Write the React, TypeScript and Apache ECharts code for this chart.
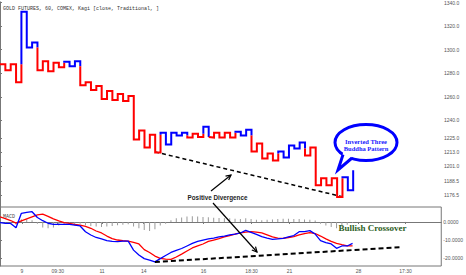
import { useEffect, useRef } from "react";
import * as echarts from "echarts";

const chartTitle = "GOLD FUTURES, 60, COMEX, Kagi [close, Traditional, ]";

// Kagi turning levels (price), one horizontal shoulder/waist per column
const kagiLevels = [
  1287.6, 1282.5, 1287.6, 1272.4, 1332.1, 1301.8, 1306.0, 1282.5, 1290.1, 1281.7,
  1288.8, 1285.0, 1289.7, 1285.9, 1290.1, 1269.9, 1272.4, 1265.7, 1269.1, 1258.1,
  1264.9, 1257.3, 1262.3, 1256.5, 1260.7, 1223.7, 1231.3, 1217.0, 1227.9, 1212.8,
  1229.6, 1219.5, 1229.6, 1227.1, 1229.6, 1225.4, 1228.7, 1225.8, 1234.6, 1225.4,
  1229.6, 1225.4, 1229.6, 1225.4, 1230.4, 1227.1, 1232.1, 1213.6, 1220.3, 1207.7,
  1211.9, 1206.0, 1213.6, 1208.6, 1218.7, 1216.1, 1221.2, 1210.2, 1217.0, 1185.0,
  1190.9, 1185.0, 1190.9, 1174.9, 1191.8, 1180.8, 1197.6,
];

const macdLine = [
  -0.4, -0.7, -0.8, -3.2, 4.8, 5.3, 5.7, 2.5, 0.7, -0.7,
  -1.3, -1.3, -1.3, -1.3, -1.7, -2.2, -5.4, -7.2, -8.6, -9.4,
  -10.3, -10.8, -10.9, -10.6, -10.6, -15.6, -18.3, -20.3, -21.1, -22.1,
  -20.3, -18.6, -16.9, -15.8, -14.7, -13.3, -11.9, -10.8, -10.0, -9.4,
  -8.9, -8.3, -7.8, -7.2, -6.7, -6.1, -4.7, -5.8, -6.9, -8.1,
  -8.9, -9.6, -9.4, -9.1, -8.3, -7.5, -5.4, -5.3, -4.8, -6.7,
  -10.3, -11.4, -12.2, -14.6, -13.3, -13.3, -11.9,
];

const signalLine = [
  2.9, 1.9, 0.8, -0.6, 0.6, 1.7, 2.8, 3.9, 4.3, 3.1,
  1.7, 0.6, -0.4, -0.8, -1.4, -1.7, -2.5, -3.5, -5.0, -6.1,
  -7.8, -9.2, -10.0, -10.4, -10.6, -11.3, -12.2, -15.3, -16.9, -18.9,
  -20.2, -20.6, -20.7, -19.4, -17.8, -16.1, -14.4, -13.3, -12.2, -10.8,
  -10.0, -9.2, -8.3, -7.5, -6.7, -6.1, -5.6, -5.4, -5.6, -6.1,
  -7.2, -8.3, -8.9, -9.1, -8.6, -8.1, -7.2, -6.4, -5.9, -6.4,
  -7.8, -9.4, -10.8, -11.8, -12.5, -13.2, -13.3,
];

const histogram = [
  -0.8, -1.0, -1.2, -1.5, 1.5, 1.5, 1.0, -1.0, -3.0, -3.5,
  -3.0, -2.0, -1.5, -1.3, -1.2, -1.0, -1.8, -2.2, -2.5, -2.8,
  -2.5, -2.2, -1.8, -1.5, -1.2, -2.5, -3.5, -4.5, -5.0, -4.0,
  -2.0, -1.0, 1.0, 2.0, 2.5, 3.0, 3.2, 3.0, 2.8, 2.6,
  2.4, 2.2, 2.0, 2.0, 1.8, 1.6, 2.0, 1.6, 1.2, 1.0,
  1.2, 1.4, 1.6, 1.8, 1.8, 1.6, 1.6, 1.4, 1.2, 0.8,
  -1.0, -2.0, -2.8, -3.5, -2.5, -1.5, -0.5,
];

const priceTicks = [1340, 1320, 1300, 1280, 1260, 1240, 1225, 1213, 1201, 1188.5, 1176.5];
const macdTicks = [0, -10, -20];
const timeTickPos = [4.1, 10.8, 19.1, 26.9, 38.1, 47.1, 54.2, 67.1, 75.9];
const timeTickLabels = ["9", "09:30", "11", "14", "16", "18:30", "21", "28", "17:30"];

const priceTrend = [[29, 1213.2], [64, 1175.2]];
const macdTrend = [[29, -22.2], [75.3, -13.9]];

const X_MAX = 82.6;
const UP = "#0000ff";
const DOWN = "#ff0000";

function buildKagiRuns(levels: number[]) {
  const runs: { up: boolean; pts: number[][] }[] = [];
  let up = false;
  let lastHigh = levels[0];
  let lastLow = levels[0];
  let cur = { up, pts: [[0, levels[0]]] as number[][] };
  for (let i = 0; i < levels.length - 1; i++) {
    const a = levels[i];
    const b = levels[i + 1];
    const x = i + 1;
    cur.pts.push([x, a]);
    if (b > a) {
      if (!up && b > lastHigh) {
        cur.pts.push([x, lastHigh]);
        runs.push(cur);
        up = true;
        cur = { up, pts: [[x, lastHigh]] };
      }
      cur.pts.push([x, b]);
      lastHigh = b;
    } else {
      if (up && b < lastLow) {
        cur.pts.push([x, lastLow]);
        runs.push(cur);
        up = false;
        cur = { up, pts: [[x, lastLow]] };
      }
      cur.pts.push([x, b]);
      lastLow = b;
    }
  }
  runs.push(cur);
  return runs;
}

function arrowHead(tip: number[], from: number[], len = 5, half = 2.5) {
  const dx = tip[0] - from[0];
  const dy = tip[1] - from[1];
  const L = Math.hypot(dx, dy);
  const ux = dx / L;
  const uy = dy / L;
  const bx = tip[0] - ux * len;
  const by = tip[1] - uy * len;
  return [
    [bx - uy * half, by + ux * half],
    tip,
    [bx + uy * half, by - ux * half],
  ];
}

export default function App() {
  const ref = useRef<HTMLDivElement>(null);

  useEffect(() => {
    if (!ref.current) return;
    const chart = echarts.init(ref.current, undefined, { renderer: "svg" });

    const runs = buildKagiRuns(kagiLevels);
    const kagiSeries = runs.map((r) => ({
      type: "line",
      xAxisIndex: 0,
      yAxisIndex: 0,
      data: r.pts,
      showSymbol: false,
      symbol: "none",
      z: 5,
      lineStyle: { color: r.up ? UP : DOWN, width: 2, join: "miter" },
    }));

    const idx = macdLine.map((_, i) => i);
    const axisFont = { fontSize: 5, color: "#555", fontFamily: "Liberation Sans" };

    const a1from = [211, 191];
    const a1to = [231, 175];
    const a2from = [213, 203];
    const a2to = [257, 252];

    const option = {
      animation: false,
      grid: [
        { left: 0, top: 0, width: 442, height: 207, show: false },
        {
          left: 0,
          top: 207,
          width: 442,
          height: 59,
          show: true,
          borderColor: "#777",
          borderWidth: 1,
          backgroundColor: "transparent",
        },
      ],
      xAxis: [
        { type: "value", gridIndex: 0, min: 0, max: X_MAX, show: false },
        {
          type: "value",
          gridIndex: 1,
          min: 0,
          max: X_MAX,
          axisLine: { show: true, lineStyle: { color: "#777" } },
          axisTick: { show: true, customValues: timeTickPos, length: 2, lineStyle: { color: "#777" } },
          axisLabel: {
            customValues: timeTickPos,
            margin: 2,
            ...axisFont,
            formatter: (v: number) => {
              const k = timeTickPos.findIndex((p) => Math.abs(p - v) < 1e-6);
              return k >= 0 ? timeTickLabels[k] : "";
            },
          },
          splitLine: { show: false },
        },
      ],
      yAxis: [
        {
          type: "value",
          gridIndex: 0,
          position: "right",
          min: 1166.5,
          max: 1340.5,
          axisLine: { show: true, lineStyle: { color: "#777" } },
          axisTick: { show: true, customValues: priceTicks, length: 2, lineStyle: { color: "#777" } },
          axisLabel: {
            customValues: priceTicks,
            margin: 2,
            ...axisFont,
            formatter: (v: number) => v.toFixed(1),
          },
          splitLine: { show: false },
        },
        {
          type: "value",
          gridIndex: 1,
          position: "right",
          min: -24.4,
          max: 8.3,
          axisLine: { show: true, lineStyle: { color: "#777" } },
          axisTick: { show: true, customValues: macdTicks, length: 2, lineStyle: { color: "#777" } },
          axisLabel: {
            customValues: macdTicks,
            margin: 2,
            ...axisFont,
            formatter: (v: number) => v.toFixed(4),
          },
          splitLine: { show: false },
        },
      ],
      series: [
        {
          type: "line",
          xAxisIndex: 0,
          yAxisIndex: 0,
          data: priceTrend,
          symbol: "none",
          z: 3,
          lineStyle: { color: "#000", width: 1.5, type: [4, 3] },
        },
        ...kagiSeries,
        {
          type: "bar",
          xAxisIndex: 1,
          yAxisIndex: 1,
          data: idx.map((i) => [i, histogram[i]]),
          barWidth: 1,
          itemStyle: { color: "#9a9a9a" },
          z: 2,
        },
        {
          type: "line",
          xAxisIndex: 1,
          yAxisIndex: 1,
          data: idx.map((i) => [i, signalLine[i]]),
          symbol: "none",
          z: 4,
          lineStyle: { color: DOWN, width: 1.3 },
        },
        {
          type: "line",
          xAxisIndex: 1,
          yAxisIndex: 1,
          data: idx.map((i) => [i, macdLine[i]]),
          symbol: "none",
          z: 5,
          lineStyle: { color: UP, width: 1.3 },
        },
        {
          type: "line",
          xAxisIndex: 1,
          yAxisIndex: 1,
          data: macdTrend,
          symbol: "none",
          z: 6,
          lineStyle: { color: "#000", width: 2, type: [5, 3] },
        },
      ],
      graphic: [
        {
          type: "text",
          x: 3,
          y: 9,
          z: 100,
          style: {
            text: chartTitle,
            fill: "#333",
            font: '5px "Liberation Mono"',
            verticalAlign: "middle",
          },
        },
        {
          type: "text",
          x: 3,
          y: 216.5,
          z: 100,
          style: {
            text: "MACD",
            fill: "#444",
            font: '5px "Liberation Mono"',
            verticalAlign: "middle",
          },
        },
        {
          type: "text",
          x: 217.5,
          y: 197,
          z: 100,
          style: {
            text: "Positive Divergence",
            fill: "#222",
            font: 'bold 6.3px "Liberation Sans"',
            align: "center",
            verticalAlign: "middle",
          },
        },
        {
          type: "polyline",
          z: 100,
          shape: { points: [a1from, a1to] },
          style: { stroke: "#000", lineWidth: 1.2, fill: "none" },
        },
        {
          type: "polyline",
          z: 100,
          shape: { points: arrowHead(a1to, a1from) },
          style: { stroke: "#000", lineWidth: 1.2, fill: "none" },
        },
        {
          type: "polyline",
          z: 100,
          shape: { points: [a2from, a2to] },
          style: { stroke: "#000", lineWidth: 1.2, fill: "none" },
        },
        {
          type: "polyline",
          z: 100,
          shape: { points: arrowHead(a2to, a2from) },
          style: { stroke: "#000", lineWidth: 1.2, fill: "none" },
        },
        {
          type: "ellipse",
          z: 101,
          shape: { cx: 366, cy: 142.5, rx: 31, ry: 18 },
          style: { fill: "#fff", stroke: "#0000ff", lineWidth: 3 },
        },
        {
          type: "polygon",
          z: 102,
          shape: { points: [[343.5, 151.5], [338, 170], [353.5, 155.5]] },
          style: { fill: "#fff", stroke: "none" },
        },
        {
          type: "polyline",
          z: 103,
          shape: { points: [[343, 154.6], [338, 170], [352, 158]] },
          style: { stroke: "#0000ff", lineWidth: 3, fill: "none", lineJoin: "miter" },
        },
        {
          type: "text",
          x: 366,
          y: 141.5,
          z: 104,
          style: {
            text: "Inverted Three",
            fill: "#1a1aff",
            font: 'bold 6.5px "Liberation Serif"',
            align: "center",
            verticalAlign: "middle",
          },
        },
        {
          type: "text",
          x: 366,
          y: 148.5,
          z: 104,
          style: {
            text: "Buddha Pattern",
            fill: "#1a1aff",
            font: 'bold 6.5px "Liberation Serif"',
            align: "center",
            verticalAlign: "middle",
          },
        },
        {
          type: "text",
          x: 372.5,
          y: 228,
          z: 104,
          style: {
            text: "Bullish Crossover",
            fill: "#2d5e1e",
            font: 'bold 9px "Liberation Serif"',
            align: "center",
            verticalAlign: "middle",
          },
        },
      ],
    };

    chart.setOption(option as any);
    return () => chart.dispose();
  }, []);

  return (
    <div
      ref={ref}
      style={{ position: "fixed", left: 0, top: 0, width: 466, height: 275, background: "#fff" }}
    />
  );
}
